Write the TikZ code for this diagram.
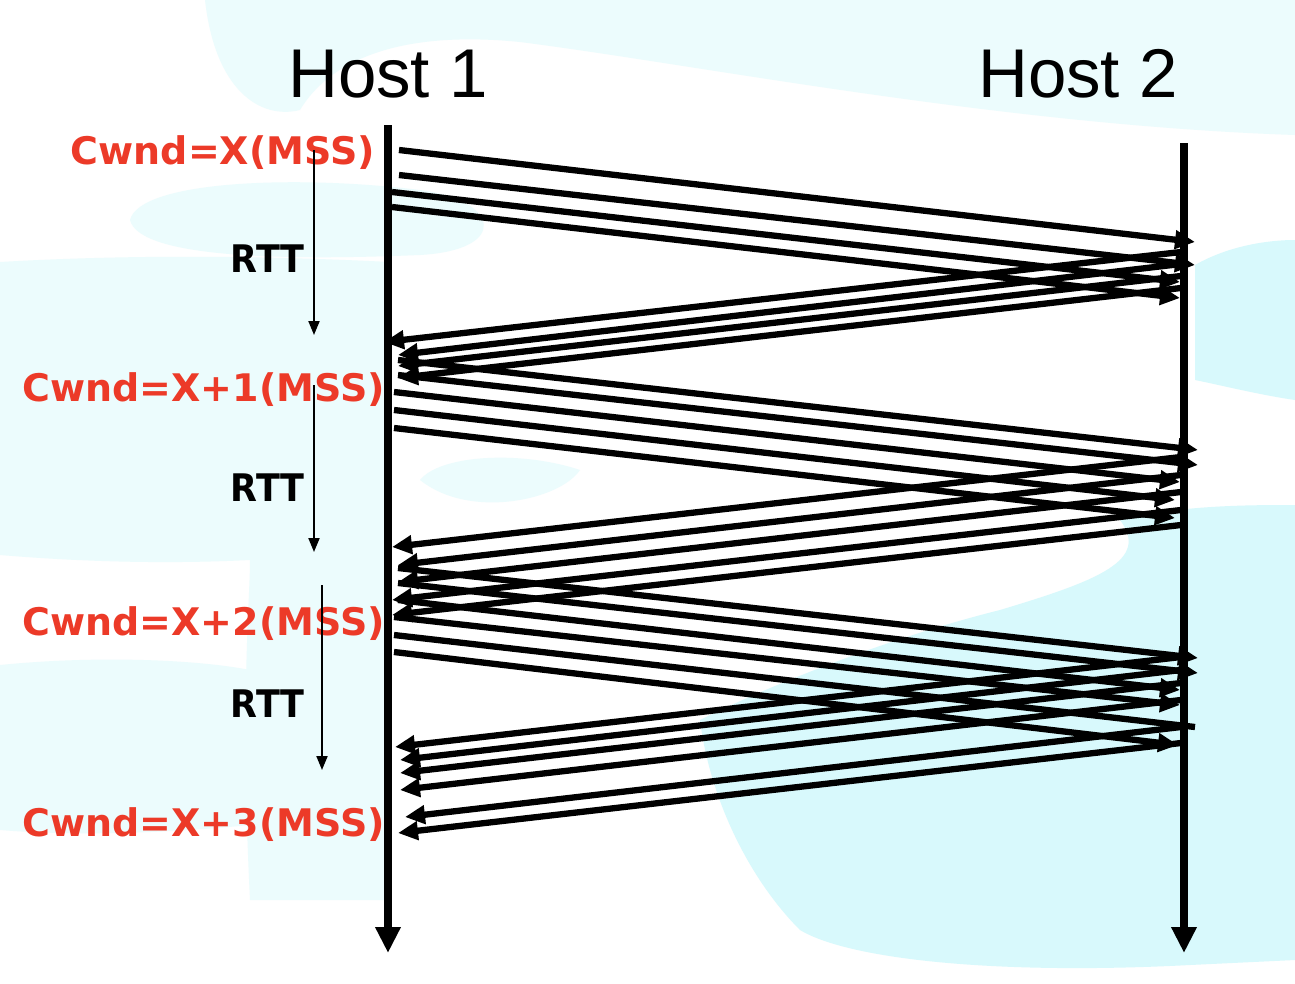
\documentclass[tikz,border=0pt]{standalone}
\usepackage{fontspec}
\setmainfont{Liberation Sans}
\newfontfamily\labfont{DejaVu Sans}
\usetikzlibrary{arrows.meta}
\definecolor{wm}{RGB}{216,249,252}
\definecolor{wmlight}{RGB}{236,252,253}
\definecolor{cwred}{RGB}{236,58,40}
\tikzset{
  hostline/.style={line width=7.5pt,-{Triangle[length=26pt,width=24pt]}},
  msg/.style={line width=6.3pt,-{Triangle[length=20pt,width=18pt]}},
  msgplain/.style={line width=6.3pt},
  rttarrow/.style={line width=2pt,-{Triangle[length=14pt,width=11pt]}},
  hostlab/.style={font=\fontsize{69}{80}\selectfont,anchor=base,inner sep=0pt},
  cwlab/.style={font=\labfont\bfseries\fontsize{38}{44}\selectfont,text=cwred,anchor=base east,inner sep=0pt},
  rttlab/.style={font=\labfont\bfseries\fontsize{38}{44}\selectfont,anchor=base east,inner sep=0pt,xscale=0.92},
}
\begin{document}
\begin{tikzpicture}[x=1pt,y=-1pt]
\useasboundingbox (0,0) rectangle (1295,983);
\fill[white] (0,0) rectangle (1295,983);
% background watermark
\fill[wmlight] (205,0) -- (1295,0) -- (1295,135) .. controls (1000,125) and (700,65) .. (520,42) .. controls (400,30) and (330,60) .. (300,110) .. controls (260,120) and (215,90) .. (205,0) -- cycle;
\fill[wmlight] (130,220) .. controls (140,180) and (300,175) .. (420,190) .. controls (500,200) and (510,250) .. (420,255) .. controls (300,260) and (140,260) .. (130,220) -- cycle;
\fill[wmlight] (0,262) .. controls (120,255) and (250,255) .. (390,262) -- (390,900) -- (250,900) .. controls (240,700) and (250,600) .. (250,560) .. controls (150,565) and (60,560) .. (0,555) -- cycle;
\fill[wmlight] (0,665) .. controls (100,655) and (200,660) .. (250,670) -- (250,825) .. controls (150,835) and (60,835) .. (0,830) -- cycle;
\fill[wmlight] (420,480) .. controls (440,455) and (520,450) .. (580,470) .. controls (560,500) and (470,520) .. (420,480) -- cycle;
\fill[wm] (1195,265) .. controls (1230,245) and (1270,240) .. (1295,240) -- (1295,400) .. controls (1260,395) and (1220,385) .. (1195,380) -- cycle;
\fill[wm] (700,720) .. controls (760,690) and (880,640) .. (1000,610) .. controls (1100,580) and (1150,560) .. (1120,520) .. controls (1180,505) and (1250,505) .. (1295,505) -- (1295,960) -- (1190,965) .. controls (1000,975) and (850,960) .. (800,930) .. controls (750,880) and (710,800) .. (700,720) -- cycle;
% labels
\node[hostlab] (host1) at (388,97) {Host 1};
\node[hostlab] (host2) at (1078,97) {Host 2};
\node[cwlab] (cw0) at (375,164) {Cwnd=X(MSS)};
\node[cwlab] (cw1) at (385,401) {Cwnd=X+1(MSS)};
\node[cwlab] (cw2) at (385,635) {Cwnd=X+2(MSS)};
\node[cwlab] (cw3) at (385,836) {Cwnd=X+3(MSS)};
\node[rttlab] (rtt1) at (305,272) {RTT};
\node[rttlab] (rtt2) at (305,501) {RTT};
\node[rttlab] (rtt3) at (305,717) {RTT};
% host time lines
\coordinate (h1top) at (388,125);
\coordinate (h1bot) at (388,953);
\coordinate (h2top) at (1184,143);
\coordinate (h2bot) at (1184,953);
\draw[hostline] (h1top) -- (h1bot);
\draw[hostline] (h2top) -- (h2bot);
% RTT arrows
\coordinate (r1a) at (314,150); \coordinate (r1b) at (314,335);
\coordinate (r2a) at (314,385); \coordinate (r2b) at (314,552);
\coordinate (r3a) at (322,585); \coordinate (r3b) at (322,770);
\draw[rttarrow] (r1a) -- (r1b);
\draw[rttarrow] (r2a) -- (r2b);
\draw[rttarrow] (r3a) -- (r3b);
% messages
\foreach \n/\xa/\ya/\xb/\yb in {
  a1/399/150/1195/242, a2/399/175/1195/265, a3/392/192/1180/282, a4/392/207/1180/298,
  k1/1181/252/384/342, k2/1181/264/398/355, k3/1181/276/398/366, k4/1181/288/398/378,
  b1/398/360/1198/450, b2/398/375/1198/465, b3/394/392/1180/482, b4/394/410/1175/500, b5/394/428/1175/518,
  l1/1181/457/392/547, l2/1181/475/398/565, l3/1181/492/398/582, l4/1181/510/392/600, l5/1181/525/392/615,
  c1/398/568/1198/658, c2/398/583/1198/673, c3/398/600/1180/690, c4/394/617/1180/705, c6/394/652/1178/745,
  m1/1181/657/395/747, m2/1181/670/400/760, m3/1181/683/400/773, m4/1181/700/400/790, m5/1181/727/405/817, m6/1181/743/398/833}
{
  \coordinate (s\n) at (\xa,\ya);
  \coordinate (e\n) at (\xb,\yb);
  \draw[msg] (s\n) -- (e\n);
}
\coordinate (sc5) at (394,635);
\coordinate (ec5) at (1195,727);
\draw[msgplain] (sc5) -- (ec5);
\end{tikzpicture}
\end{document}
